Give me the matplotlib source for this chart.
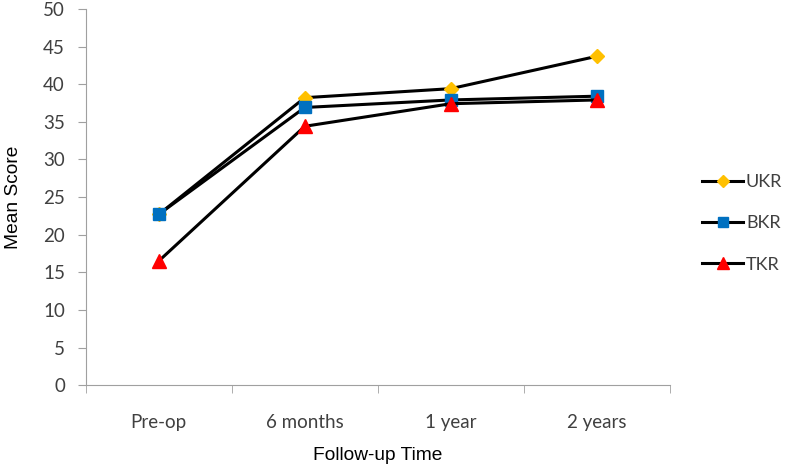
import matplotlib.pyplot as plt
import numpy as np

# data
times = ['Pre-op', '6 months', '1 year', '2 years']
ukr = [22.7, 38.2, 39.4, 43.7]
bkr = [22.7, 36.9, 37.9, 38.4]
tkr = [16.5, 34.4, 37.4, 37.9]

fig = plt.figure(figsize=(7.87, 4.68), dpi=100)
ax = fig.add_axes([0.109, 0.177, 0.742, 0.804])

x = np.arange(len(times))
ax.plot(x, ukr, color='black', lw=2.2, marker='D', ms=7.5, mfc='#FFC000', mec='#FFC000', label='UKR')
ax.plot(x, bkr, color='black', lw=2.2, marker='s', ms=9, mfc='#0070C0', mec='#0070C0', label='BKR')
ax.plot(x, tkr, color='black', lw=2.2, marker='^', ms=9.5, mfc='#FF0000', mec='#FF0000', label='TKR')

ax.set_xlim(-0.5, 3.5)
ax.set_ylim(0, 50)
ax.set_yticks(np.arange(0, 51, 5))
ax.set_xticks(x)
ax.set_xticklabels(times)
ax.set_xticks(np.arange(-0.5, 3.6, 1), minor=True)
ax.tick_params(axis='x', which='major', length=0, pad=21)
ax.tick_params(axis='x', which='minor', length=6, color='#a0a0a0', direction='out')
ax.tick_params(axis='y', length=6, color='#a0a0a0', direction='out', pad=9)
for lab in ax.get_xticklabels() + ax.get_yticklabels():
    lab.set_family('Lato')
    lab.set_fontsize(13.5)
    lab.set_color('#404040')

for s in ['top', 'right']:
    ax.spines[s].set_visible(False)
for s in ['left', 'bottom']:
    ax.spines[s].set_color('#a0a0a0')

ax.set_xlabel('Follow-up Time', family='Liberation Sans', fontsize=13.8, labelpad=11)
ax.set_ylabel('Mean Score', family='Liberation Sans', fontsize=13.8, labelpad=15)

leg = ax.legend(loc='center left', bbox_to_anchor=(1.027, 0.43), frameon=False,
                labelspacing=1.4, handlelength=2.3, handletextpad=0.15,
                markerscale=0.85, prop={'family': 'Lato', 'size': 13})
for t in leg.get_texts():
    t.set_color('#404040')

fig.savefig('out.png', dpi=100)
